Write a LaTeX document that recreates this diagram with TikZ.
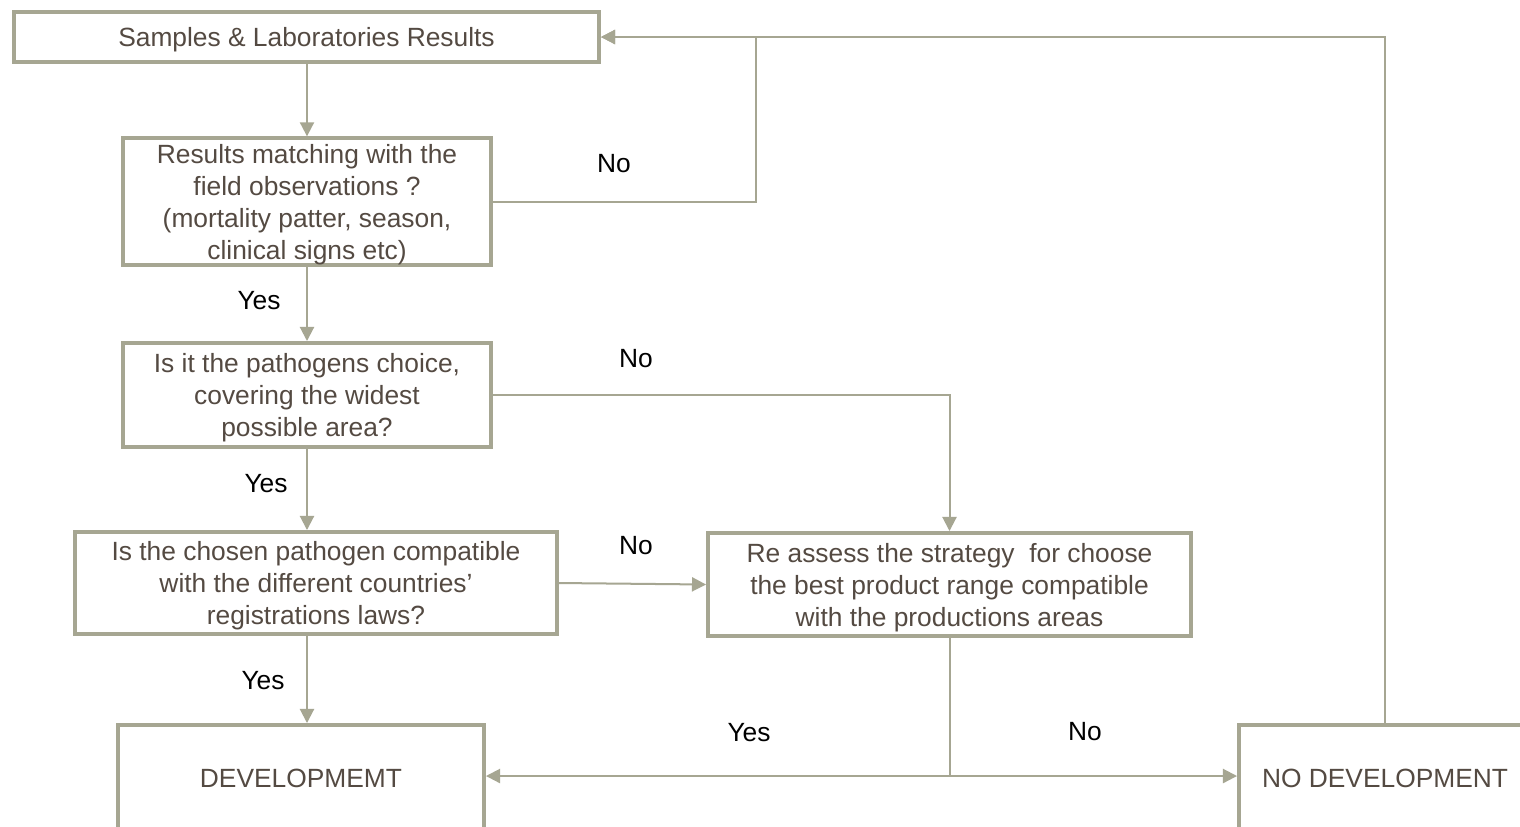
\documentclass[tikz,border=0pt]{standalone}
\usepackage{fontspec}
\setmainfont{Liberation Sans}
\usetikzlibrary{arrows.meta}
\definecolor{boxline}{RGB}{166,166,146}
\definecolor{boxtext}{RGB}{84,74,66}
\newcommand{\tp}{\rule{0pt}{14.2pt}}
\begin{document}
\begin{tikzpicture}[x=0.02cm,y=-0.02cm,
  box/.style={draw=boxline,line width=2.28pt,fill=white,inner sep=0pt,align=center,
    text=boxtext,font=\fontsize{15pt}{18.2pt}\selectfont},
  conn/.style={draw=boxline,line width=1.14pt},
  arr/.style={conn,-{Triangle[length=8pt,width=8pt]}},
  lab/.style={text=black,font=\fontsize{15pt}{18.2pt}\selectfont,inner sep=0pt}]
\clip (0,0) rectangle (1520,826);
\fill[white] (0,0) rectangle (1520,826);

\node[box,minimum width=11.7cm,minimum height=1.0cm] (b1) at (306.5,37) {\tp Samples \& Laboratories Results};
\node[box,minimum width=7.36cm,minimum height=2.5cm] (b2) at (307,201.5) {\tp Results matching with the\\field observations ?\\(mortality patter, season,\\clinical signs etc)};
\node[box,minimum width=7.36cm,minimum height=2.08cm] (b3) at (307,395) {\tp Is it the pathogens choice,\\covering the widest\\possible area?};
\node[box,minimum width=9.64cm,minimum height=2.04cm] (b4) at (316,583) {\tp Is the chosen pathogen compatible\\with the different countries'\\registrations laws?};
\node[box,minimum width=9.66cm,minimum height=2.06cm] (b5) at (949.5,584.5) {\tp Re assess the strategy\ \ for choose\\the best product range compatible\\with the productions areas};
\node[box,minimum width=7.32cm,minimum height=2.12cm] (b6) at (301,778) {DEVELOPMEMT};
\node[box,minimum width=5.84cm,minimum height=2.12cm] (b7) at (1385,778) {NO DEVELOPMENT};

\coordinate (c1) at (756,37);
\coordinate (j) at (949.5,776);

\draw[arr] (b1.south -| b2.north) -- (b2.north);
\draw[arr] (b2.east) -| (c1) -- (b1.east);
\draw[arr] (b2.south) -- (b3.north);
\draw[arr] (b3.east) -| (b5.north);
\draw[arr] (b3.south) -- (b3.south |- b4.north);
\draw[arr] (b4.east) -- (b5.west);
\draw[arr] (b3.south |- b4.south) -- (b3.south |- b6.north);
\draw[conn] (b5.south) -- (j);
\draw[arr] (j) -- (b6.east |- j);
\draw[arr] (j) -- (b7.west |- j);
\draw[arr] (b7.north) |- (b1.east);

\node[lab] (l1) at (614,164) {No};
\node[lab] (l2) at (259,301) {Yes};
\node[lab] (l3) at (636,359) {No};
\node[lab] (l4) at (266,484) {Yes};
\node[lab] (l5) at (636,546) {No};
\node[lab] (l6) at (263,681) {Yes};
\node[lab] (l7) at (749,733) {Yes};
\node[lab] (l8) at (1085,732) {No};
\end{tikzpicture}
\end{document}
